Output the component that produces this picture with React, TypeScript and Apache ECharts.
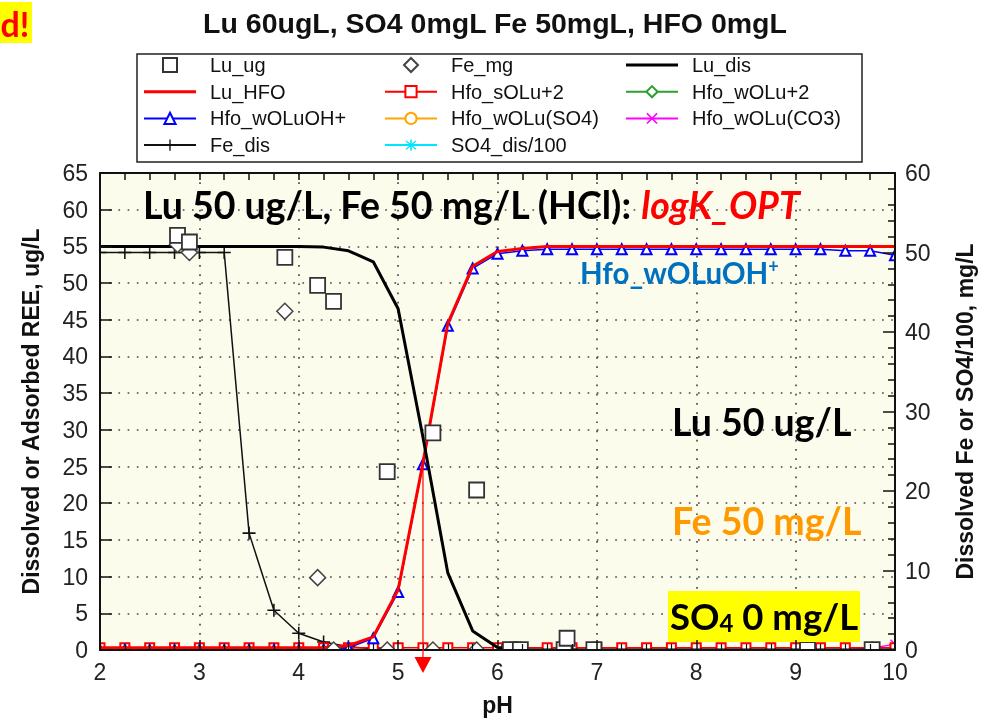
import { useEffect, useRef } from 'react';
import * as echarts from 'echarts';

// Model pH steps (PHREEQC-style sweep)
const pH = [2, 2.25, 2.5, 2.75, 3, 3.25, 3.5, 3.75, 4, 4.25, 4.5, 4.75, 5, 5.25, 5.5, 5.75, 6, 6.25, 6.5, 6.75, 7, 7.25, 7.5, 7.75, 8, 8.25, 8.5, 8.75, 9, 9.25, 9.5, 9.75, 10];

// Lu species, ug/L (left axis)
const luDis = [55, 55, 55, 55, 55, 55, 55, 55, 55, 54.9, 54.4, 52.9, 46.5, 29, 10.5, 2.6, 0.35, 0.05, 0, 0, 0, 0, 0, 0, 0, 0, 0, 0, 0, 0, 0, 0, 0];
const luHfo = [0.3, 0.3, 0.3, 0.3, 0.3, 0.3, 0.3, 0.3, 0.3, 0.35, 0.6, 1.8, 8.2, 25.5, 44.5, 52.3, 54.3, 54.7, 55, 55, 55, 55, 55, 55, 55, 55, 55, 55, 55, 55, 55, 55, 55];
const hfoSOLu2 = [0.3, 0.3, 0.3, 0.3, 0.3, 0.3, 0.3, 0.3, 0.3, 0.3, 0.3, 0.3, 0.3, 0.3, 0.3, 0.3, 0.3, 0.3, 0.3, 0.3, 0.3, 0.3, 0.3, 0.3, 0.3, 0.3, 0.3, 0.3, 0.3, 0.3, 0.3, 0.3, 0.3];
const hfoWOLu2 = [0, 0, 0, 0, 0, 0, 0, 0, 0, 0, 0, 0, 0, 0, 0, 0, 0, 0, 0, 0, 0, 0, 0, 0, 0, 0, 0, 0, 0, 0, 0, 0, 0];
const hfoWOLuOH = [0, 0, 0, 0, 0, 0, 0, 0, 0, 0.05, 0.3, 1.6, 7.9, 25.3, 44.2, 52.0, 54.0, 54.4, 54.6, 54.6, 54.6, 54.6, 54.6, 54.6, 54.6, 54.6, 54.6, 54.6, 54.6, 54.6, 54.4, 54.4, 53.8];
const hfoWOLuSO4 = [0, 0, 0, 0, 0, 0, 0, 0, 0, 0, 0, 0, 0, 0, 0, 0, 0, 0, 0, 0, 0, 0, 0, 0, 0, 0, 0, 0, 0, 0, 0, 0, 0];
const hfoWOLuCO3 = [0, 0, 0, 0, 0, 0, 0, 0, 0, 0, 0, 0, 0, 0, 0, 0, 0, 0, 0, 0, 0, 0, 0, 0, 0, 0, 0, 0, 0, 0, 0, 0.2, 0.8];

// Fe and SO4, mg/L (right axis)
const feDis = [50, 50, 50, 50, 50, 50, 14.7, 5.0, 2.1, 1.0, 0.4, 0.15, 0.05, 0, 0, 0, 0, 0, 0, 0, 0, 0, 0, 0, 0, 0, 0, 0, 0, 0, 0, 0, 0];
const so4Dis100 = [0, 0, 0, 0, 0, 0, 0, 0, 0, 0, 0, 0, 0, 0, 0, 0, 0, 0, 0, 0, 0, 0, 0, 0, 0, 0, 0, 0, 0, 0, 0, 0, 0];

// Measured samples
const luUgPH = [2.78, 2.9, 3.86, 4.19, 4.35, 4.89, 5.35, 5.79, 6.13, 6.23, 6.67, 6.7, 6.97, 9.12, 9.77];
const luUgVal = [56.5, 55.6, 53.5, 49.7, 47.5, 24.3, 29.6, 21.8, 0.05, 0.05, 0.05, 1.6, 0.05, 0.05, 0.05];
const feMgPH = [2.78, 2.9, 3.86, 4.19, 4.35, 4.89, 5.35, 5.79, 6.13, 6.23, 6.7, 6.97, 9.12, 9.77];
const feMgVal = [51, 50, 42.6, 9.1, 0, 0, 0, 0, 0, 0, 0, 0, 0, 0];

// pH50 marker
const arrowPH = 5.25;
const arrowFrom = 25.5;

const FONT = 'Liberation Sans, Arial, sans-serif';
const BOLD_FONT = 'Lato, Open Sans, sans-serif';

const PLUS = 'path://M4.4,0h1.2v10h-1.2z M0,4.4h10v1.2h-10z';
const CROSS = 'path://M0,1L1,0L10,9L9,10Z M9,0L10,1L1,10L0,9Z';
const STAR = 'path://M4.4,0h1.2v10h-1.2z M0.8,1.6L1.6,0.8L9.2,8.4L8.4,9.2Z M8.4,0.8L9.2,1.6L1.6,9.2L0.8,8.4Z';
const SQUARE = 'path://M0,0h15v15h-15z';
const DIAMOND = 'path://M7.5,0L15,7.5L7.5,15L0,7.5Z';
const BAR = 'path://M0,0h52v3h-52z';

const GRID = { left: 100, right: 95, top: 173, bottom: 74 };
const W = 990;
const H = 724;

const pair = (ys: number[]) => pH.map((x, i) => [x, ys[i]]);
const pts = (xs: number[], ys: number[]) => xs.map((x, i) => [x, ys[i]]);

function modelLine(name: string, ys: number[], color: string, symbol: string, size: number, z: number, yAxisIndex = 0, width = 1.5) {
  return {
    name,
    type: 'line',
    data: pair(ys),
    yAxisIndex,
    z,
    symbol,
    symbolSize: size,
    showSymbol: true,
    showAllSymbol: true,
    lineStyle: { color, width },
    itemStyle: { color, borderWidth: 1.4 },
  };
}

function legendCol(left: number, data: any[]) {
  return {
    orient: 'vertical',
    left,
    top: 55,
    itemWidth: 52,
    itemHeight: 14,
    itemGap: 6.7,
    padding: 0,
    selectedMode: false,
    textStyle: { fontFamily: FONT, fontSize: 20, color: '#111', lineHeight: 20, padding: [0, 0, 0, 9] },
    data,
  };
}

function frame() {
  return { show: true, onZero: false, lineStyle: { color: '#111', width: 2 } };
}

function dotted() {
  return { show: true, lineStyle: { color: '#4a4a4a', width: 1.7, type: [1.7, 7.5] } };
}

const axisLabelStyle = { fontFamily: FONT, fontSize: 23, color: '#222' };
const nameStyle = { fontFamily: FONT, fontSize: 23, fontWeight: 'bold', color: '#111' };
const big = { fontFamily: BOLD_FONT, fontWeight: 'bold', fontSize: 37.5 };

export default function App() {
  const ref = useRef<HTMLDivElement>(null);

  useEffect(() => {
    const chart = echarts.init(ref.current!, null, { renderer: 'svg' });

    const option: any = {
      animation: false,
      title: {
        text: 'Lu 60ugL, SO4 0mgL Fe 50mgL, HFO 0mgL',
        left: 'center',
        top: 3,
        padding: [5, 0, 5, 20],
        textStyle: { fontFamily: FONT, fontSize: 28.5, fontWeight: 'bold', color: '#111' },
      },
      legend: [
        legendCol(143, [
          { name: 'Lu_ug', icon: SQUARE },
          { name: 'Lu_HFO', icon: BAR, itemStyle: { borderWidth: 0 } },
          { name: 'Hfo_wOLuOH+' },
          { name: 'Fe_dis' },
        ]),
        legendCol(384, [
          { name: 'Fe_mg', icon: DIAMOND },
          { name: 'Hfo_sOLu+2' },
          { name: 'Hfo_wOLu(SO4)' },
          { name: 'SO4_dis/100' },
        ]),
        legendCol(625, [
          { name: 'Lu_dis', icon: BAR, itemStyle: { borderWidth: 0 } },
          { name: 'Hfo_wOLu+2' },
          { name: 'Hfo_wOLu(CO3)' },
        ]),
      ],
      grid: { ...GRID, show: true, backgroundColor: '#fcfcec', borderWidth: 0 },
      xAxis: [
        {
          type: 'value', position: 'bottom', min: 2, max: 10, interval: 1, z: 30,
          axisLine: frame(),
          axisTick: { inside: true, length: 10, lineStyle: { color: '#111', width: 1.5 } },
          minorTick: { show: true, splitNumber: 4, length: 6, lineStyle: { color: '#111', width: 1.2 } },
          axisLabel: { ...axisLabelStyle, margin: 10 },
          splitLine: { show: false },
          name: 'pH', nameLocation: 'middle', nameGap: 43, nameTextStyle: nameStyle,
        },
        {
          type: 'value', position: 'top', min: 2, max: 10, interval: 1, z: 30,
          axisLine: frame(),
          axisTick: { inside: true, length: 7, lineStyle: { color: '#111', width: 1.5 } },
          minorTick: { show: true, splitNumber: 4, length: 7, lineStyle: { color: '#111', width: 1.5 } },
          axisLabel: { show: false },
          splitLine: { show: false },
        },
        {
          type: 'value', position: 'bottom', min: 2, max: 10, interval: 1, z: 1,
          axisLine: { show: false }, axisTick: { show: false }, axisLabel: { show: false },
          splitLine: dotted(),
        },
      ],
      yAxis: [
        {
          type: 'value', position: 'left', min: 0, max: 65, interval: 5, z: 30,
          axisLine: frame(),
          axisTick: { inside: true, length: 12, lineStyle: { color: '#111', width: 1.5 } },
          axisLabel: { ...axisLabelStyle, margin: 12 },
          splitLine: { show: false },
          name: 'Dissolved or Adsorbed REE, ug/L', nameLocation: 'middle', nameGap: 58, nameTextStyle: nameStyle,
        },
        {
          type: 'value', position: 'right', min: 0, max: 60, interval: 10, z: 30,
          axisLine: frame(),
          axisTick: { inside: true, length: 12, lineStyle: { color: '#111', width: 1.5 } },
          minorTick: { show: true, splitNumber: 5, length: 7, lineStyle: { color: '#111', width: 1.5 } },
          axisLabel: { ...axisLabelStyle, margin: 10 },
          splitLine: { show: false },
          name: 'Dissolved Fe or SO4/100, mg/L', nameLocation: 'middle', nameGap: 58, nameTextStyle: nameStyle,
        },
        {
          type: 'value', position: 'left', min: 0, max: 65, interval: 5, z: 1,
          axisLine: { show: false }, axisTick: { show: false }, axisLabel: { show: false },
          splitLine: dotted(),
        },
      ],
      series: [
        modelLine('Hfo_wOLu+2', hfoWOLu2, '#2ca02c', 'emptyDiamond', 9, 2),
        modelLine('Hfo_wOLu(SO4)', hfoWOLuSO4, '#ffa500', 'emptyCircle', 9, 2),
        modelLine('Hfo_wOLu(CO3)', hfoWOLuCO3, '#ff00ff', CROSS, 10, 2),
        modelLine('SO4_dis/100', so4Dis100, '#00e5ff', STAR, 11, 2, 1),
        modelLine('Fe_dis', feDis, '#111111', PLUS, 13, 3, 1),
        modelLine('Hfo_sOLu+2', hfoSOLu2, '#ff0000', 'emptyRect', 9, 4),
        modelLine('Hfo_wOLuOH+', hfoWOLuOH, '#0000ff', 'emptyTriangle', 10, 5),
        modelLine('Lu_HFO', luHfo, '#ff0000', 'none', 0, 6, 0, 3),
        modelLine('Lu_dis', luDis, '#000000', 'none', 0, 6, 0, 3),
        {
          name: 'Fe_mg', type: 'scatter', yAxisIndex: 1, z: 7,
          data: pts(feMgPH, feMgVal), symbol: 'diamond', symbolSize: 16,
          itemStyle: { color: '#ffffff', borderColor: '#444', borderWidth: 1.5, opacity: 1 },
        },
        {
          name: 'Lu_ug', type: 'scatter', yAxisIndex: 0, z: 8,
          data: pts(luUgPH, luUgVal), symbol: 'rect', symbolSize: 15,
          itemStyle: { color: '#ffffff', borderColor: '#333', borderWidth: 1.8, opacity: 1 },
        },
      ],
      graphic: {
        elements: [
          // legend frame
          { id: 'legendBox', type: 'rect', z: 1, shape: { x: 137, y: 54, width: 725, height: 108 }, style: { fill: '#ffffff', stroke: '#222', lineWidth: 1.5 } },
          // white margins so symbols sitting on the frame are cut at the plot edge
          { id: 'coverB', type: 'rect', z: 20, silent: true, shape: { x: 0, y: H - GRID.bottom + 1, width: W, height: GRID.bottom }, style: { fill: '#ffffff' } },
          { id: 'coverL', type: 'rect', z: 20, silent: true, shape: { x: 0, y: 165, width: GRID.left - 1, height: H - 165 }, style: { fill: '#ffffff' } },
          { id: 'coverR', type: 'rect', z: 20, silent: true, shape: { x: W - GRID.right + 1, y: 165, width: GRID.right, height: H - 165 }, style: { fill: '#ffffff' } },
          // corner tag
          { id: 'tagBg', type: 'rect', z: 25, shape: { x: 0, y: 2, width: 32, height: 41 }, style: { fill: '#ffff00' } },
          { id: 'tag', type: 'text', z: 26, x: 15, y: 23, style: { text: 'd!', fill: '#ff0000', fontFamily: BOLD_FONT, fontWeight: 'bold', fontSize: 34, align: 'center', verticalAlign: 'middle' } },
          // annotations
          {
            id: 'headline', type: 'text', z: 25, x: 143, y: 204,
            style: {
              text: '{a|Lu 50 ug/L, Fe 50 mg/L (HCl): }{b|logK_OPT}', verticalAlign: 'middle',
              rich: {
                a: { ...big, fill: '#000' },
                b: { ...big, fontStyle: 'italic', fill: '#ff0000' },
              },
            },
          },
          {
            id: 'species', type: 'text', z: 25, x: 580, y: 272,
            style: {
              text: '{a|Hfo_wOLuOH}{s|+}', verticalAlign: 'middle',
              rich: {
                a: { fontFamily: BOLD_FONT, fontWeight: 'bold', fontSize: 29.5, fill: '#0070c0' },
                s: { fontFamily: BOLD_FONT, fontWeight: 'bold', fontSize: 18, fill: '#0070c0', verticalAlign: 'top' },
              },
            },
          },
          { id: 'luConc', type: 'text', z: 25, x: 672, y: 421, style: { text: 'Lu 50 ug/L', fill: '#000', ...big, verticalAlign: 'middle' } },
          { id: 'feConc', type: 'text', z: 25, x: 672, y: 520, style: { text: 'Fe 50 mg/L', fill: '#ff9900', ...big, verticalAlign: 'middle' } },
          { id: 'so4Bg', type: 'rect', z: 24, shape: { x: 668, y: 591, width: 192, height: 51 }, style: { fill: '#ffff00' } },
          {
            id: 'so4Conc', type: 'text', z: 25, x: 670, y: 616,
            style: {
              text: '{a|SO}{b|4}{a| 0 mg/L}', verticalAlign: 'middle',
              rich: {
                a: { fontFamily: BOLD_FONT, fontWeight: 'bold', fontSize: 36.5, fill: '#000' },
                b: { fontFamily: BOLD_FONT, fontWeight: 'bold', fontSize: 24, fill: '#000', verticalAlign: 'bottom' },
              },
            },
          },
        ],
      },
    };

    chart.setOption(option);

    // pH50 arrow, placed through the cartesian scales
    const top = chart.convertToPixel({ xAxisIndex: 0, yAxisIndex: 0 }, [arrowPH, arrowFrom]) as number[];
    const base = chart.convertToPixel({ xAxisIndex: 0, yAxisIndex: 0 }, [arrowPH, 0]) as number[];
    chart.setOption({
      graphic: {
        elements: [
          { id: 'arrowLine', type: 'line', z: 40, shape: { x1: top[0], y1: top[1], x2: base[0], y2: base[1] + 7 }, style: { stroke: '#ff0000', lineWidth: 1.2 } },
          { id: 'arrowHead', type: 'polygon', z: 40, shape: { points: [[base[0] - 8.5, base[1] + 7], [base[0] + 8.5, base[1] + 7], [base[0], base[1] + 23]] }, style: { fill: '#ff0000' } },
        ],
      },
    });

    return () => chart.dispose();
  }, []);

  return <div ref={ref} style={{ position: 'fixed', left: 0, top: 0, width: W, height: H }} />;
}
